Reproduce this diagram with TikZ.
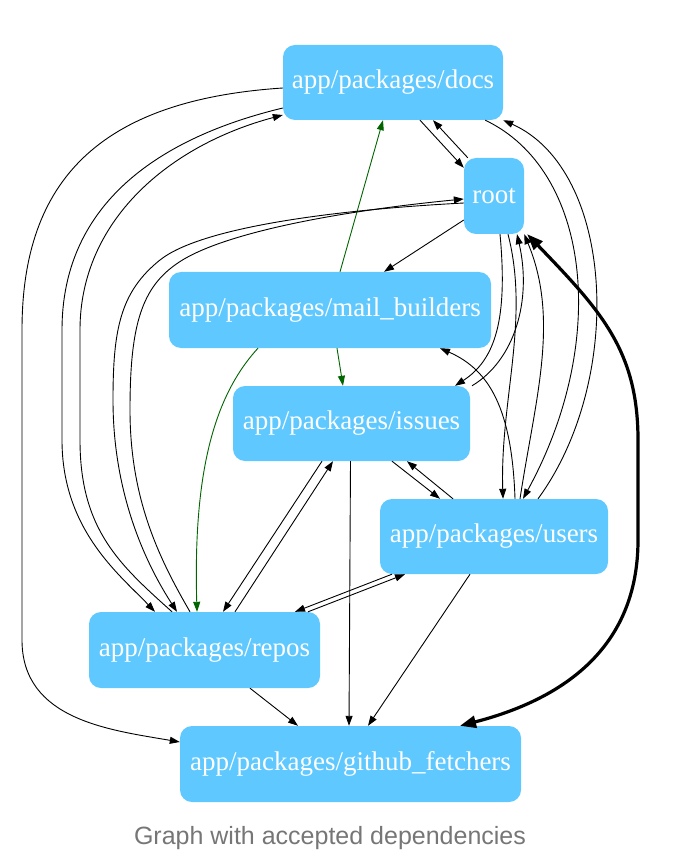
\documentclass[tikz,border=0pt]{standalone}
\usepackage{fontspec}
\setmainfont{Liberation Serif}
\setsansfont{Liberation Sans}
\usetikzlibrary{arrows.meta,calc}
\definecolor{pkgblue}{RGB}{94,200,255}
\definecolor{depgreen}{RGB}{0,100,0}
\definecolor{captiongray}{RGB}{118,118,118}
\tikzset{
  pkg/.style={fill=pkgblue, rounded corners=12pt, inner sep=0pt, minimum height=76pt,
    text=white, font=\fontsize{27}{32}\selectfont},
  dep/.style={line width=0.9pt, -{Triangle[length=10pt,width=7pt]}},
  newdep/.style={dep, draw=depgreen, fill=none},
  cycledep/.style={line width=3.2pt, {Triangle[length=16pt,width=12pt]}-{Triangle[length=16pt,width=12pt]}}
}
\begin{document}
\begin{tikzpicture}[x=1pt,y=-1pt]
    \useasboundingbox (0,0) rectangle (700,858);
    \node[pkg, minimum width=220pt, minimum height=75pt] (docs) at (393,82.5) {app/packages/docs};
    \node[pkg, minimum width=60pt] (root) at (494,196) {root};
    \node[pkg, minimum width=322pt] (mail) at (330,310) {app/packages/mail\_builders};
    \node[pkg, minimum width=237pt, minimum height=75pt] (issues) at (351.5,423.5) {app/packages/issues};
    \node[pkg, minimum width=228pt, minimum height=75pt] (users) at (494,536.5) {app/packages/users};
    \node[pkg, minimum width=231pt] (repos) at (204.5,650) {app/packages/repos};
    \node[pkg, minimum width=341pt] (gh) at (350.5,764) {app/packages/github\_fetchers};
    \node[font=\sffamily\fontsize{25}{30}\selectfont, text=captiongray] (caption) at (330,838) {Graph with accepted dependencies};

    \draw[dep] ($(docs.south)+(27,0)$) -- ($(root.north west)+(0,10)$);
    \draw[dep] ($(root.north west)+(4,0)$) -- ($(docs.south)+(40,0)$);
    \draw[dep] ($(root.west)+(0,24)$) -- ($(mail.north)+(54,0)$);
    \draw[newdep] ($(mail.north)+(10,0)$) -- ($(docs.south)+(-10,0)$);
    \draw[newdep] ($(mail.south)+(7,0)$) -- ($(issues.north)+(-8.5,0)$);
    \draw[newdep] ($(mail.south)+(-72,0)$) .. controls (215,395) and (193,470) .. ($(repos.north)+(-7.5,0)$);

    \draw[dep] ($(docs.west)+(0,5.5)$) .. controls (100,100) and (22,180) .. (22,330) -- (22,640)
        .. controls (22,720) and (110,730) .. ($(gh.west)+(0,-22)$);
    \draw[dep] ($(docs.west)+(0,25.5)$) .. controls (150,140) and (62,210) .. (62,330) -- (62,440)
        .. controls (62,530) and (120,575) .. ($(repos.north)+(-49.5,0)$);
    \draw[dep] ($(repos.north)+(-32.5,0)$) .. controls (120,565) and (80,530) .. (80,440) -- (80,330)
        .. controls (80,220) and (170,145) .. ($(docs.west)+(0,32.5)$);
    \draw[dep] ($(root.west)+(0,7)$) .. controls (330,210) and (200,228) .. (160,260)
        .. controls (120,292) and (113,330) .. (113,400) .. controls (113,500) and (150,570) .. ($(repos.north)+(-27.5,0)$);
    \draw[dep] ($(repos.north)+(-14.5,0)$) .. controls (160,560) and (130,500) .. (130,410)
        .. controls (130,330) and (140,290) .. (175,265) .. controls (215,235) and (330,212) .. ($(root.west)+(0,3)$);

    \draw[dep] ($(issues.south)+(-29.5,0)$) -- ($(repos.north)+(18.5,0)$);
    \draw[dep] ($(repos.north)+(30.5,0)$) -- ($(issues.south)+(-18.5,0)$);
    \draw[dep] ($(users.south)+(-102,0)$) -- ($(repos.north)+(90.5,0)$);
    \draw[dep] ($(repos.north)+(103.5,0)$) -- ($(users.south)+(-89,0)$);
    \draw[dep] ($(repos.south)+(45.5,0)$) -- ($(gh.north)+(-52.5,0)$);
    \draw[dep] ($(issues.south)+(-1,0)$) -- ($(gh.north)+(-1.5,0)$);
    \draw[dep] ($(users.south)+(-24,0)$) -- ($(gh.north)+(17.5,0)$);
    \draw[dep] ($(issues.south)+(40.5,0)$) -- ($(users.north)+(-54,0)$);
    \draw[dep] ($(users.north)+(-41,0)$) -- ($(issues.south)+(55.5,0)$);

    \draw[dep] ($(root.south)+(6,0)$) .. controls (508,320) and (495,360) .. ($(issues.north)+(103.5,0)$);
    \draw[dep] ($(issues.north)+(120.5,0)$) .. controls (515,360) and (532,300) .. ($(root.south)+(23,0)$);
    \draw[dep] ($(root.south)+(14,0)$) .. controls (530,320) and (500,400) .. ($(users.north)+(9,0)$);
    \draw[dep] ($(users.north)+(26,0)$) .. controls (535,400) and (560,320) .. (root.south east);
    \draw[dep] ($(docs.south east)+(-18,0)$) .. controls (590,170) and (610,340) .. ($(users.north)+(29,0)$);
    \draw[dep] ($(users.north)+(44,0)$) .. controls (625,380) and (615,170) .. (docs.south east);
    \draw[dep] ($(users.north)+(21,0)$) .. controls (512,410) and (490,370) .. ($(mail.south)+(110,0)$);

    \draw[cycledep] ($(root.south east)+(3,0)$) .. controls (600,310) and (638,350) .. (638,440) -- (638,540)
        .. controls (638,650) and (560,700) .. ($(gh.north)+(109.5,0)$);
\end{tikzpicture}
\end{document}
